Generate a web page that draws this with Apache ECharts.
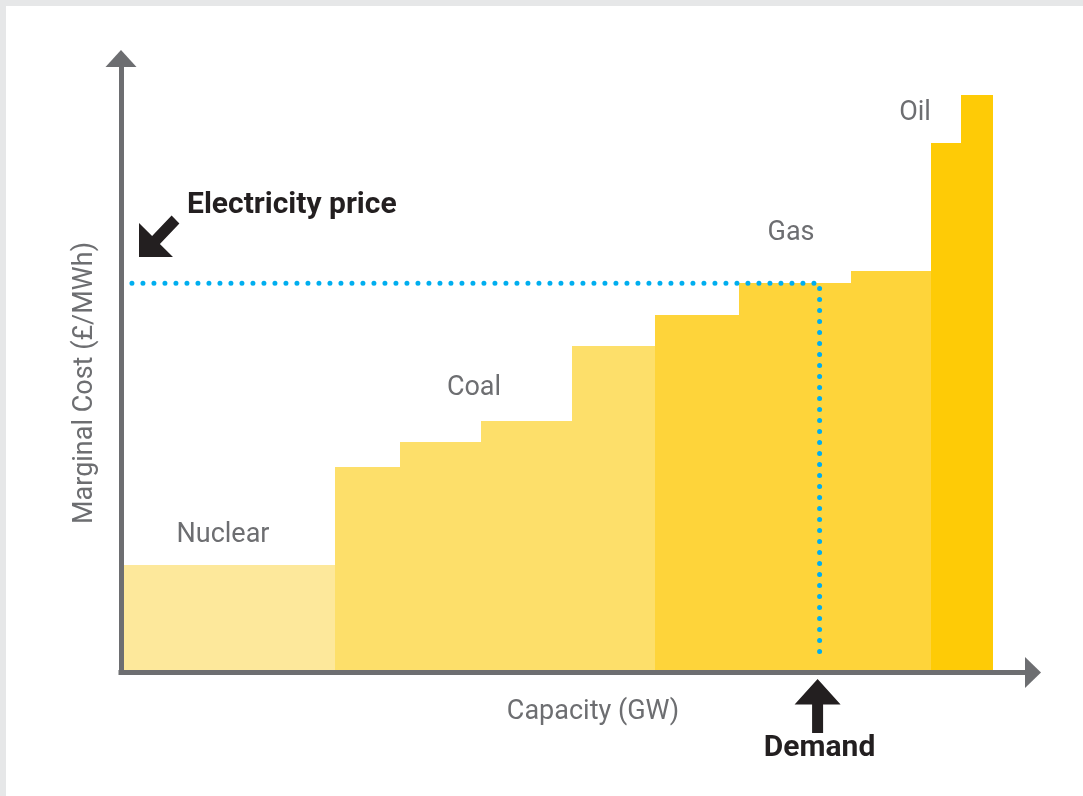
<!DOCTYPE html>
<html>
<head>
<meta charset="utf-8">
<title>Merit order</title>
<script src="https://cdn.jsdelivr.net/npm/echarts@6.0.0/dist/echarts.min.js"></script>
<style>
  html, body { margin: 0; padding: 0; background: #fff; }
  #chart { width: 1083px; height: 796px; background: #fff; box-shadow: inset 6px 6px 0 #e6e7e8; }
</style>
</head>
<body>
<div id="chart"></div>
<script>
// --- Data (schematic units, no ticks on the axes) ---

const plantTypes = ['Nuclear', 'Coal', 'Gas', 'Oil'];
const blockType = [0, 1, 1, 1, 1, 2, 2, 2, 3, 3];
const blockCapacity = [23.5, 7.1, 8.9, 9.9, 9.2, 9.2, 12.2, 8.8, 3.3, 3.5];
const blockCost = [17.5, 33.4, 37.6, 41.0, 53.2, 58.2, 63.4, 65.4, 86.2, 94.1];
const demand = 76.6;
const price = 63.4;

// --- Style ---

const typeColors = ['#fde89b', '#fddf6a', '#fed43a', '#fecb06'];
const GREY = '#6d6e71';
const INK = '#231f20';
const BLUE = '#00aeef';
const FONT = 'Roboto';

// stack the blocks left to right: [start, end, cost, type]
let cursor = 0;
const blocks = blockCapacity.map((cap, i) => {
    const item = [cursor, cursor + cap, blockCost[i], blockType[i]];
    cursor += cap;
    return item;
});

const renderBlock = (params, api) => {
    const topLeft = api.coord([api.value(0), api.value(2)]);
    const bottomRight = api.coord([api.value(1), 0]);
    const x0 = Math.round(topLeft[0]);
    const x1 = Math.round(bottomRight[0]);
    const y0 = Math.round(topLeft[1]);
    const y1 = Math.round(bottomRight[1]);
    return {
        type: 'rect',
        shape: { x: x0, y: y0, width: x1 - x0, height: y1 - y0 },
        style: { fill: typeColors[api.value(3)] }
    };
};

const axisLine = (size) => ({
    show: true,
    onZero: false,
    symbol: ['none', 'triangle'],
    symbolSize: size,
    lineStyle: { color: GREY, width: 5, cap: 'square' }
});

const chart = echarts.init(document.getElementById('chart'));

chart.setOption({
    animation: false,
    grid: { left: 121, right: 50, top: 58.5, bottom: 123.5 },
    xAxis: {
        type: 'value', min: 0, max: 100, z: 5,
        axisLine: axisLine([31, 16]),
        axisTick: { show: false }, axisLabel: { show: false }, splitLine: { show: false }
    },
    yAxis: {
        type: 'value', min: 0, max: 100, z: 5,
        axisLine: axisLine([31, 17]),
        axisTick: { show: false }, axisLabel: { show: false }, splitLine: { show: false }
    },
    series: [
        {
            type: 'custom',
            renderItem: renderBlock,
            data: blocks,
            silent: true,
            z: 2
        },
        {
            // price level across to demand, then down to the axis
            type: 'line',
            data: [[1.2, price], [demand, price], [demand, 1.7]],
            showSymbol: false,
            symbol: 'none',
            silent: true,
            z: 4,
            lineStyle: { color: BLUE, width: 5, type: [0, 11], cap: 'round' }
        }
    ]
});

// --- Annotations ---

const text = (str, x, y, size, opts = {}) => ({
    type: 'text',
    x, y, z: 100,
    rotation: opts.rotation || 0,
    style: {
        text: str,
        fill: opts.bold ? INK : GREY,
        font: `${opts.bold ? 'bold ' : ''}${size}px ${FONT}`,
        align: opts.align || 'center',
        verticalAlign: 'middle'
    }
});

const demandPx = chart.convertToPixel({ xAxisIndex: 0 }, demand) - 2;

chart.setOption({
    graphic: [
        text(plantTypes[0], 223, 535, 27),
        text(plantTypes[1], 474, 388, 27),
        text(plantTypes[2], 791, 233, 27),
        text(plantTypes[3], 915, 113, 27),
        text('Capacity (GW)', 593, 712, 27),
        text('Marginal Cost (£/MWh)', 85, 383, 27, { rotation: Math.PI / 2 }),
        text('Electricity price', 187, 205, 30, { bold: true, align: 'left' }),
        text('Demand', demandPx + 2, 748, 30, { bold: true }),
        {
            type: 'polygon', z: 100,
            shape: { points: [[139, 257], [139, 223], [152.1, 236.1], [171.6, 215.6], [179.4, 223.4], [159.9, 243.9], [173, 257]] },
            style: { fill: INK }
        },
        {
            type: 'polygon', z: 100, x: demandPx,
            shape: { points: [[0, 679], [23, 704.5], [5.5, 704.5], [5.5, 733], [-5.5, 733], [-5.5, 704.5], [-23, 704.5]] },
            style: { fill: INK }
        }
    ]
});
</script>
</body>
</html>
